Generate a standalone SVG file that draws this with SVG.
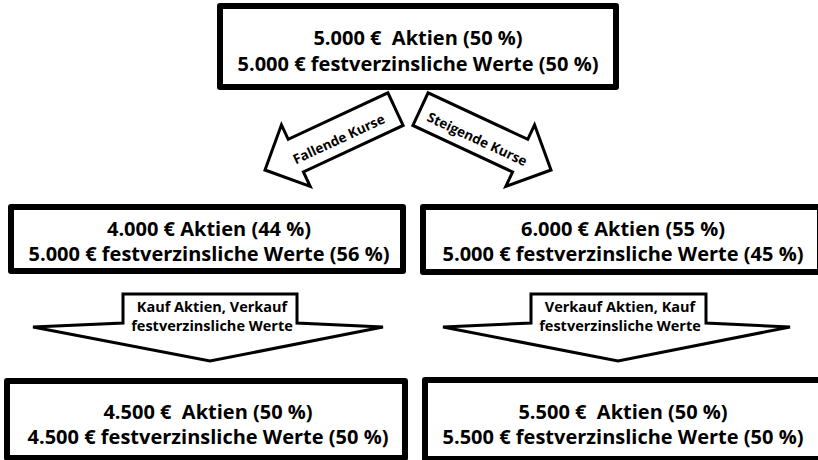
<svg xmlns="http://www.w3.org/2000/svg" width="818" height="460" viewBox="0 0 818 460">
<style>
.box{fill:#fff;stroke:#000;stroke-width:6;stroke-linejoin:round}
.arr{fill:#fff;stroke:#000;stroke-width:3;stroke-linejoin:miter}
.t{font-family:"Open Sans","Liberation Sans",sans-serif;font-weight:bold;font-size:20px;fill:#000;text-anchor:middle;white-space:pre}
.s{font-family:"Open Sans","Liberation Sans",sans-serif;font-weight:bold;font-size:14.5px;fill:#000;text-anchor:middle}
.c{font-family:"Open Sans","Liberation Sans",sans-serif;font-weight:bold;font-size:13.5px;fill:#000;text-anchor:middle}
</style>
<rect width="818" height="460" fill="#fff"/>
<g id="connectors">
  <g id="arrow-fallend" transform="translate(265,170) rotate(-25)">
    <path class="arr" d="M0,0 L34,-34 L34,-18 L144,-18 L144,18 L34,18 L34,34 Z"/>
    <text class="c" x="80" y="8">Fallende Kurse</text>
  </g>
  <g id="arrow-steigend" transform="translate(551,170) rotate(25)">
    <path class="arr" d="M0,0 L-34,-34 L-34,-18 L-144,-18 L-144,18 L-34,18 L-34,34 Z"/>
    <text class="c" x="-80" y="8">Steigende Kurse</text>
  </g>
  <g id="arrow-kauf">
    <path class="arr" d="M123,294 L297,294 L297,323 L383,327 L210,361 L33,327 L123,323 Z"/>
    <text class="s" x="212" y="312">Kauf Aktien, Verkauf</text>
    <text class="s" x="212" y="331">festverzinsliche Werte</text>
  </g>
  <g id="arrow-verkauf">
    <path class="arr" d="M531,294 L706,294 L706,323 L790,327 L618,361 L443,327 L531,323 Z"/>
    <text class="s" x="620" y="312">Verkauf Aktien, Kauf</text>
    <text class="s" x="620" y="331">festverzinsliche Werte</text>
  </g>
</g>
<g id="node-start">
  <rect class="box" x="220" y="6" width="396" height="81"/>
  <text class="t" x="418" y="45">5.000 €  Aktien (50 %)</text>
  <text class="t" x="418" y="71">5.000 € festverzinsliche Werte (50 %)</text>
</g>
<g id="node-fallend">
  <rect class="box" x="11" y="207" width="392" height="64"/>
  <text class="t" x="209" y="236">4.000 € Aktien (44 %)</text>
  <text class="t" x="209" y="261">5.000 € festverzinsliche Werte (56 %)</text>
</g>
<g id="node-steigend">
  <rect class="box" x="423" y="207" width="397" height="65"/>
  <text class="t" x="623" y="236">6.000 € Aktien (55 %)</text>
  <text class="t" x="623" y="261">5.000 € festverzinsliche Werte (45 %)</text>
</g>
<g id="node-ende-links">
  <rect class="box" x="7" y="381" width="398" height="77"/>
  <text class="t" x="208" y="419">4.500 €  Aktien (50 %)</text>
  <text class="t" x="208" y="444">4.500 € festverzinsliche Werte (50 %)</text>
</g>
<g id="node-ende-rechts">
  <rect class="box" x="425" y="380" width="397" height="79"/>
  <text class="t" x="623" y="419">5.500 €  Aktien (50 %)</text>
  <text class="t" x="623" y="444">5.500 € festverzinsliche Werte (50 %)</text>
</g>
</svg>
